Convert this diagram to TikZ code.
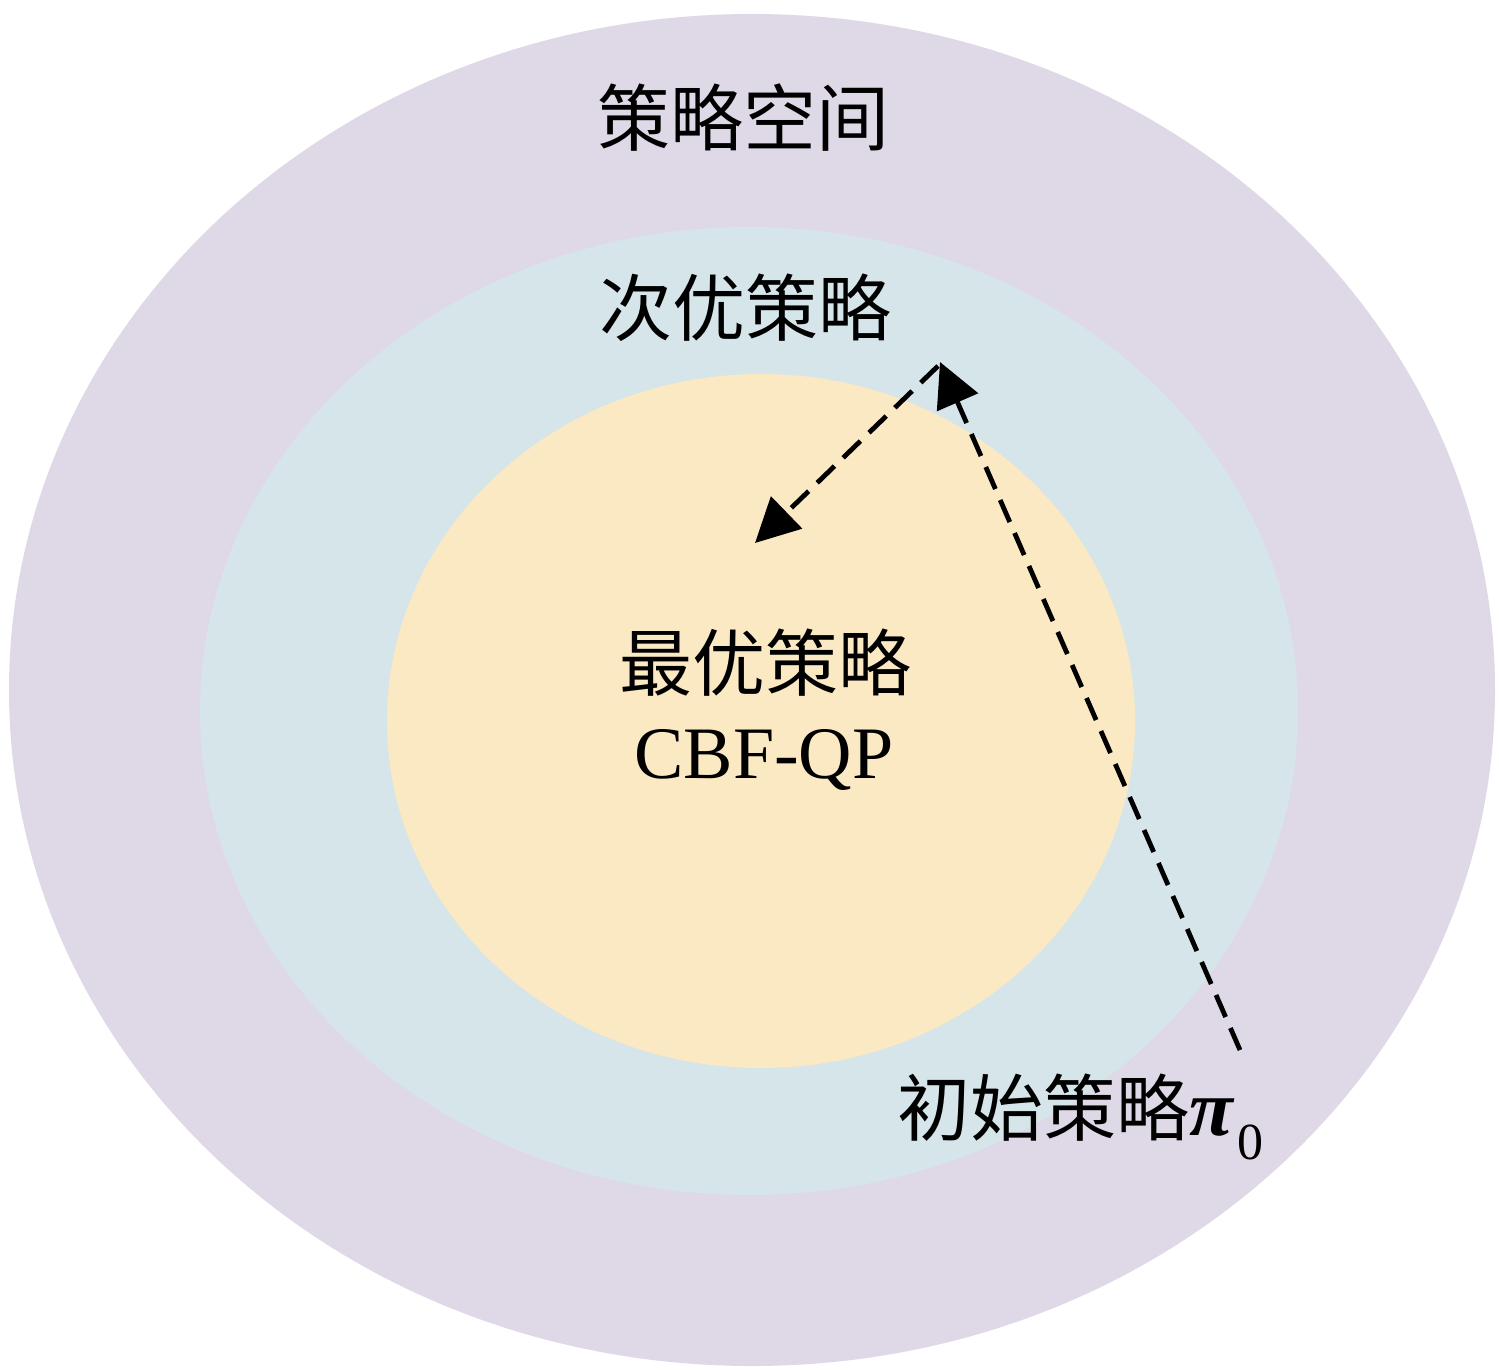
\documentclass[tikz,border=0pt]{standalone}
\usepackage{fontspec}
\setmainfont{Liberation Serif}
\newfontfamily\cjk{Noto Sans CJK SC}
\usetikzlibrary{arrows.meta}
\definecolor{outerc}{RGB}{223,216,230}
\definecolor{midc}{RGB}{214,229,233}
\definecolor{innerc}{RGB}{250,233,194}
\tikzset{
  lbl/.style={font=\cjk\fontsize{36.5pt}{40pt}\selectfont, text=black, inner sep=0pt},
  dline/.style={line width=2.4pt, dash pattern=on 12pt off 6pt, -{Triangle[length=22pt,width=22pt]}}
}
\begin{document}
\begin{tikzpicture}[x=0.5pt,y=-0.5pt]
\useasboundingbox (0,0) rectangle (1499,1370);
\fill[white] (0,0) rectangle (1499,1370);
\fill[outerc] (752,690) ellipse [x radius=743, y radius=676];
\fill[midc] (749,711) ellipse [x radius=549, y radius=484];
\fill[innerc] (761,721) ellipse [x radius=374, y radius=347];
\node[lbl] (space) at (743,118) {策略空间};
\node[lbl] (sub) at (745,308) {次优策略};
\node[lbl] (opt) at (765,663) {最优策略};
\node[inner sep=0pt, font=\fontsize{37pt}{40pt}\selectfont] (cbf) at (764,760) {CBF-QP};
\node[lbl, anchor=west] (init) at (897,1117) {初始策略{\rmfamily\bfseries\itshape\fontsize{40pt}{40pt}\selectfont π}\hspace{2pt}\raisebox{-12pt}{\rmfamily\fontsize{26pt}{30pt}\selectfont 0}};
\coordinate (start) at (1240,1050);
\coordinate (top) at (940,362);
\coordinate (topb) at (938,366);
\coordinate (mid) at (755,543);
\draw[dline] (start) -- (top);
\draw[dline] (topb) -- (mid);
\end{tikzpicture}
\end{document}
